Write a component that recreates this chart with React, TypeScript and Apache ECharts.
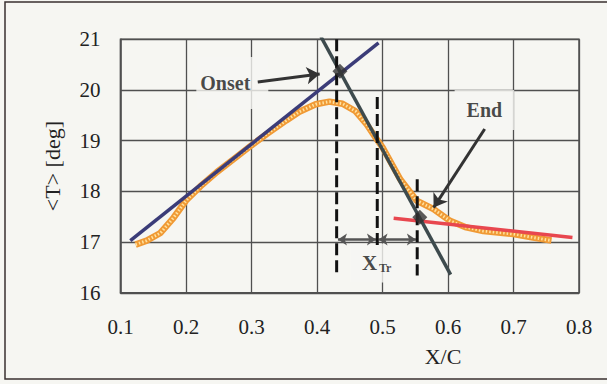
import React, { useEffect, useRef } from "react";
import * as echarts from "echarts";

// Measured mean temperature along the chord
const profileX = [
  0.123, 0.14, 0.161, 0.181, 0.2, 0.222, 0.247, 0.272, 0.3, 0.323, 0.353, 0.373,
  0.398, 0.419, 0.439, 0.459, 0.476, 0.49, 0.5, 0.527, 0.552, 0.578, 0.603,
  0.628, 0.654, 0.7, 0.73, 0.758,
];
const profileT = [
  16.95, 17.03, 17.18, 17.48, 17.82, 18.1, 18.38, 18.63, 18.91, 19.13, 19.4,
  19.57, 19.72, 19.77, 19.73, 19.58, 19.32, 19.05, 18.87, 18.24, 17.82, 17.65,
  17.42, 17.29, 17.22, 17.16, 17.09, 17.03,
];

// Linear fits: laminar rise, transition drop, turbulent tail
const riseFitX = [0.115, 0.494];
const riseFitT = [17.03, 20.93];
const dropFitX = [0.406, 0.604];
const dropFitT = [21.05, 16.36];
const tailFitX = [0.517, 0.79];
const tailFitT = [17.47, 17.09];

// Onset / end of transition
const eventNames = ["Onset", "End"];
const eventX = [0.435, 0.557];
const eventT = [20.37, 17.49];

// Vertical guides
const guideX = [0.43, 0.492, 0.553];
const guideTop = [21.0, 19.86, 18.24];
const guideBottom = [16.37, 16.89, 16.34];

const FONT = "'Liberation Serif', 'Times New Roman', serif";
const BG = "#f6f6f2";
const GRID = "#505050";
const INK = "#1a1a1a";

export default function App() {
  const ref = useRef<HTMLDivElement>(null);

  useEffect(() => {
    if (!ref.current) return;
    const chart = echarts.init(ref.current, undefined, { renderer: "svg" });

    const profile = profileX.map((x, i) => [x, profileT[i]]);
    const seg = (xs: number[], ts: number[]) => xs.map((x, i) => [x, ts[i]]);

    const guides = guideX.map((x, i) => ({
      type: "line",
      z: 6,
      silent: true,
      showSymbol: false,
      data: [
        [x, guideTop[i]],
        [x, guideBottom[i]],
      ],
      lineStyle: { color: "#111", width: 3, type: [12, 5] },
    }));

    const bold = { fontFamily: FONT, fontWeight: "bold" as const, color: INK };

    // Text annotations; the padded background masks the grid behind them
    const annotations = [
      {
        value: [0.2707, 20.138],
        label: { ...bold, formatter: "Onset", fontSize: 20, padding: [20, 18, 12, 4] },
      },
      {
        value: [0.6556, 19.606],
        label: { ...bold, formatter: "End", fontSize: 20, padding: [5, 12, 15, 12] },
      },
      {
        value: [0.4956, 16.588],
        label: { ...bold, formatter: "X", fontSize: 21, padding: [8, 32, 11, 12] },
      },
    ];

    chart.setOption({
      animation: false,
      backgroundColor: BG,
      grid: {
        left: 120.5,
        right: 28,
        top: 39.3,
        bottom: 91.2,
        show: true,
        borderColor: GRID,
        borderWidth: 1.5,
      },
      xAxis: {
        type: "value",
        min: 0.1,
        max: 0.8,
        interval: 0.1,
        axisLine: { lineStyle: { color: GRID, width: 1.5 } },
        axisTick: { show: false },
        splitLine: { show: true, lineStyle: { color: GRID, width: 1.3 } },
        axisLabel: {
          color: "#222",
          fontFamily: FONT,
          fontSize: 21,
          margin: 24,
          formatter: (v: number) => v.toFixed(1),
        },
      },
      yAxis: {
        type: "value",
        min: 16,
        max: 21,
        interval: 1,
        name: "<T> [deg]",
        nameLocation: "middle",
        nameRotate: 90,
        nameGap: 57,
        nameTextStyle: { color: "#222", fontFamily: FONT, fontSize: 22 },
        axisLine: { lineStyle: { color: GRID, width: 1.5 } },
        axisTick: { show: false },
        splitLine: { show: true, lineStyle: { color: GRID, width: 1.3 } },
        axisLabel: { color: "#222", fontFamily: FONT, fontSize: 21, margin: 20 },
      },
      graphic: [
        {
          type: "rect",
          shape: { x: 5, y: 2, width: 612, height: 377 },
          style: { fill: "none", stroke: "#3a3030", lineWidth: 1.5 },
          z: 100,
        },
        {
          type: "text",
          x: 443,
          y: 356,
          style: {
            text: "X/C",
            fill: "#222",
            font: `22px ${FONT}`,
            textAlign: "center",
            textVerticalAlign: "middle",
          },
        },
      ],
      series: [
        {
          type: "scatter",
          z: 2,
          silent: true,
          symbolSize: 0,
          data: annotations,
          label: {
            show: true,
            position: "inside",
            ...bold,
            fontSize: 20,
            lineHeight: 20,
            backgroundColor: BG,
          },
        },
        {
          // subscript of the transition length
          type: "scatter",
          z: 9,
          silent: true,
          symbolSize: 0,
          data: [{ value: [0.504, 16.489] }],
          label: {
            show: true,
            position: "inside",
            formatter: "Tr",
            ...bold,
            fontSize: 12,
          },
        },
        {
          type: "line",
          z: 3,
          silent: true,
          showSymbol: false,
          data: profile,
          lineStyle: { color: "#f09a35", width: 6.5 },
        },
        {
          type: "line",
          z: 3,
          silent: true,
          showSymbol: false,
          data: profile,
          lineStyle: { color: "#ffe2a0", width: 3, type: [1.5, 2] },
        },
        {
          type: "line",
          z: 4,
          silent: true,
          showSymbol: false,
          data: seg(tailFitX, tailFitT),
          lineStyle: { color: "#e8474f", width: 3.5 },
        },
        {
          type: "line",
          z: 4,
          silent: true,
          showSymbol: false,
          data: seg(riseFitX, riseFitT),
          lineStyle: { color: "#3b3c78", width: 3.5 },
        },
        {
          type: "line",
          z: 5,
          silent: true,
          showSymbol: false,
          data: seg(dropFitX, dropFitT),
          lineStyle: { color: "#3d4a4d", width: 3.5 },
        },
        ...guides,
        {
          type: "line",
          z: 7,
          silent: true,
          data: [],
          markLine: {
            silent: true,
            animation: false,
            symbol: ["none", "arrow"],
            symbolSize: 13,
            label: { show: false },
            lineStyle: { color: "#333", width: 3, type: "solid" },
            data: [
              [{ coord: [0.3096, 20.158] }, { coord: [0.4041, 20.316] }],
              [{ coord: [0.656, 19.23] }, { coord: [0.578, 17.68] }],
            ],
          },
        },
        {
          type: "line",
          z: 7,
          silent: true,
          data: [],
          markLine: {
            silent: true,
            animation: false,
            symbol: ["arrow", "arrow"],
            symbolSize: 9,
            label: { show: false },
            lineStyle: { color: "#555", width: 2.5, type: "solid" },
            data: [
              [{ coord: [0.432, 17.05] }, { coord: [0.49, 17.05] }],
              [{ coord: [0.494, 17.05] }, { coord: [0.551, 17.05] }],
            ],
          },
        },
        {
          type: "scatter",
          z: 8,
          silent: true,
          symbol: "diamond",
          symbolSize: 15,
          itemStyle: { color: "#333" },
          data: eventNames.map((n, i) => ({ name: n, value: [eventX[i], eventT[i]] })),
        },
      ],
    });

    return () => chart.dispose();
  }, []);

  return (
    <div
      ref={ref}
      style={{ position: "absolute", left: 0, top: 0, width: 607, height: 384 }}
    />
  );
}
